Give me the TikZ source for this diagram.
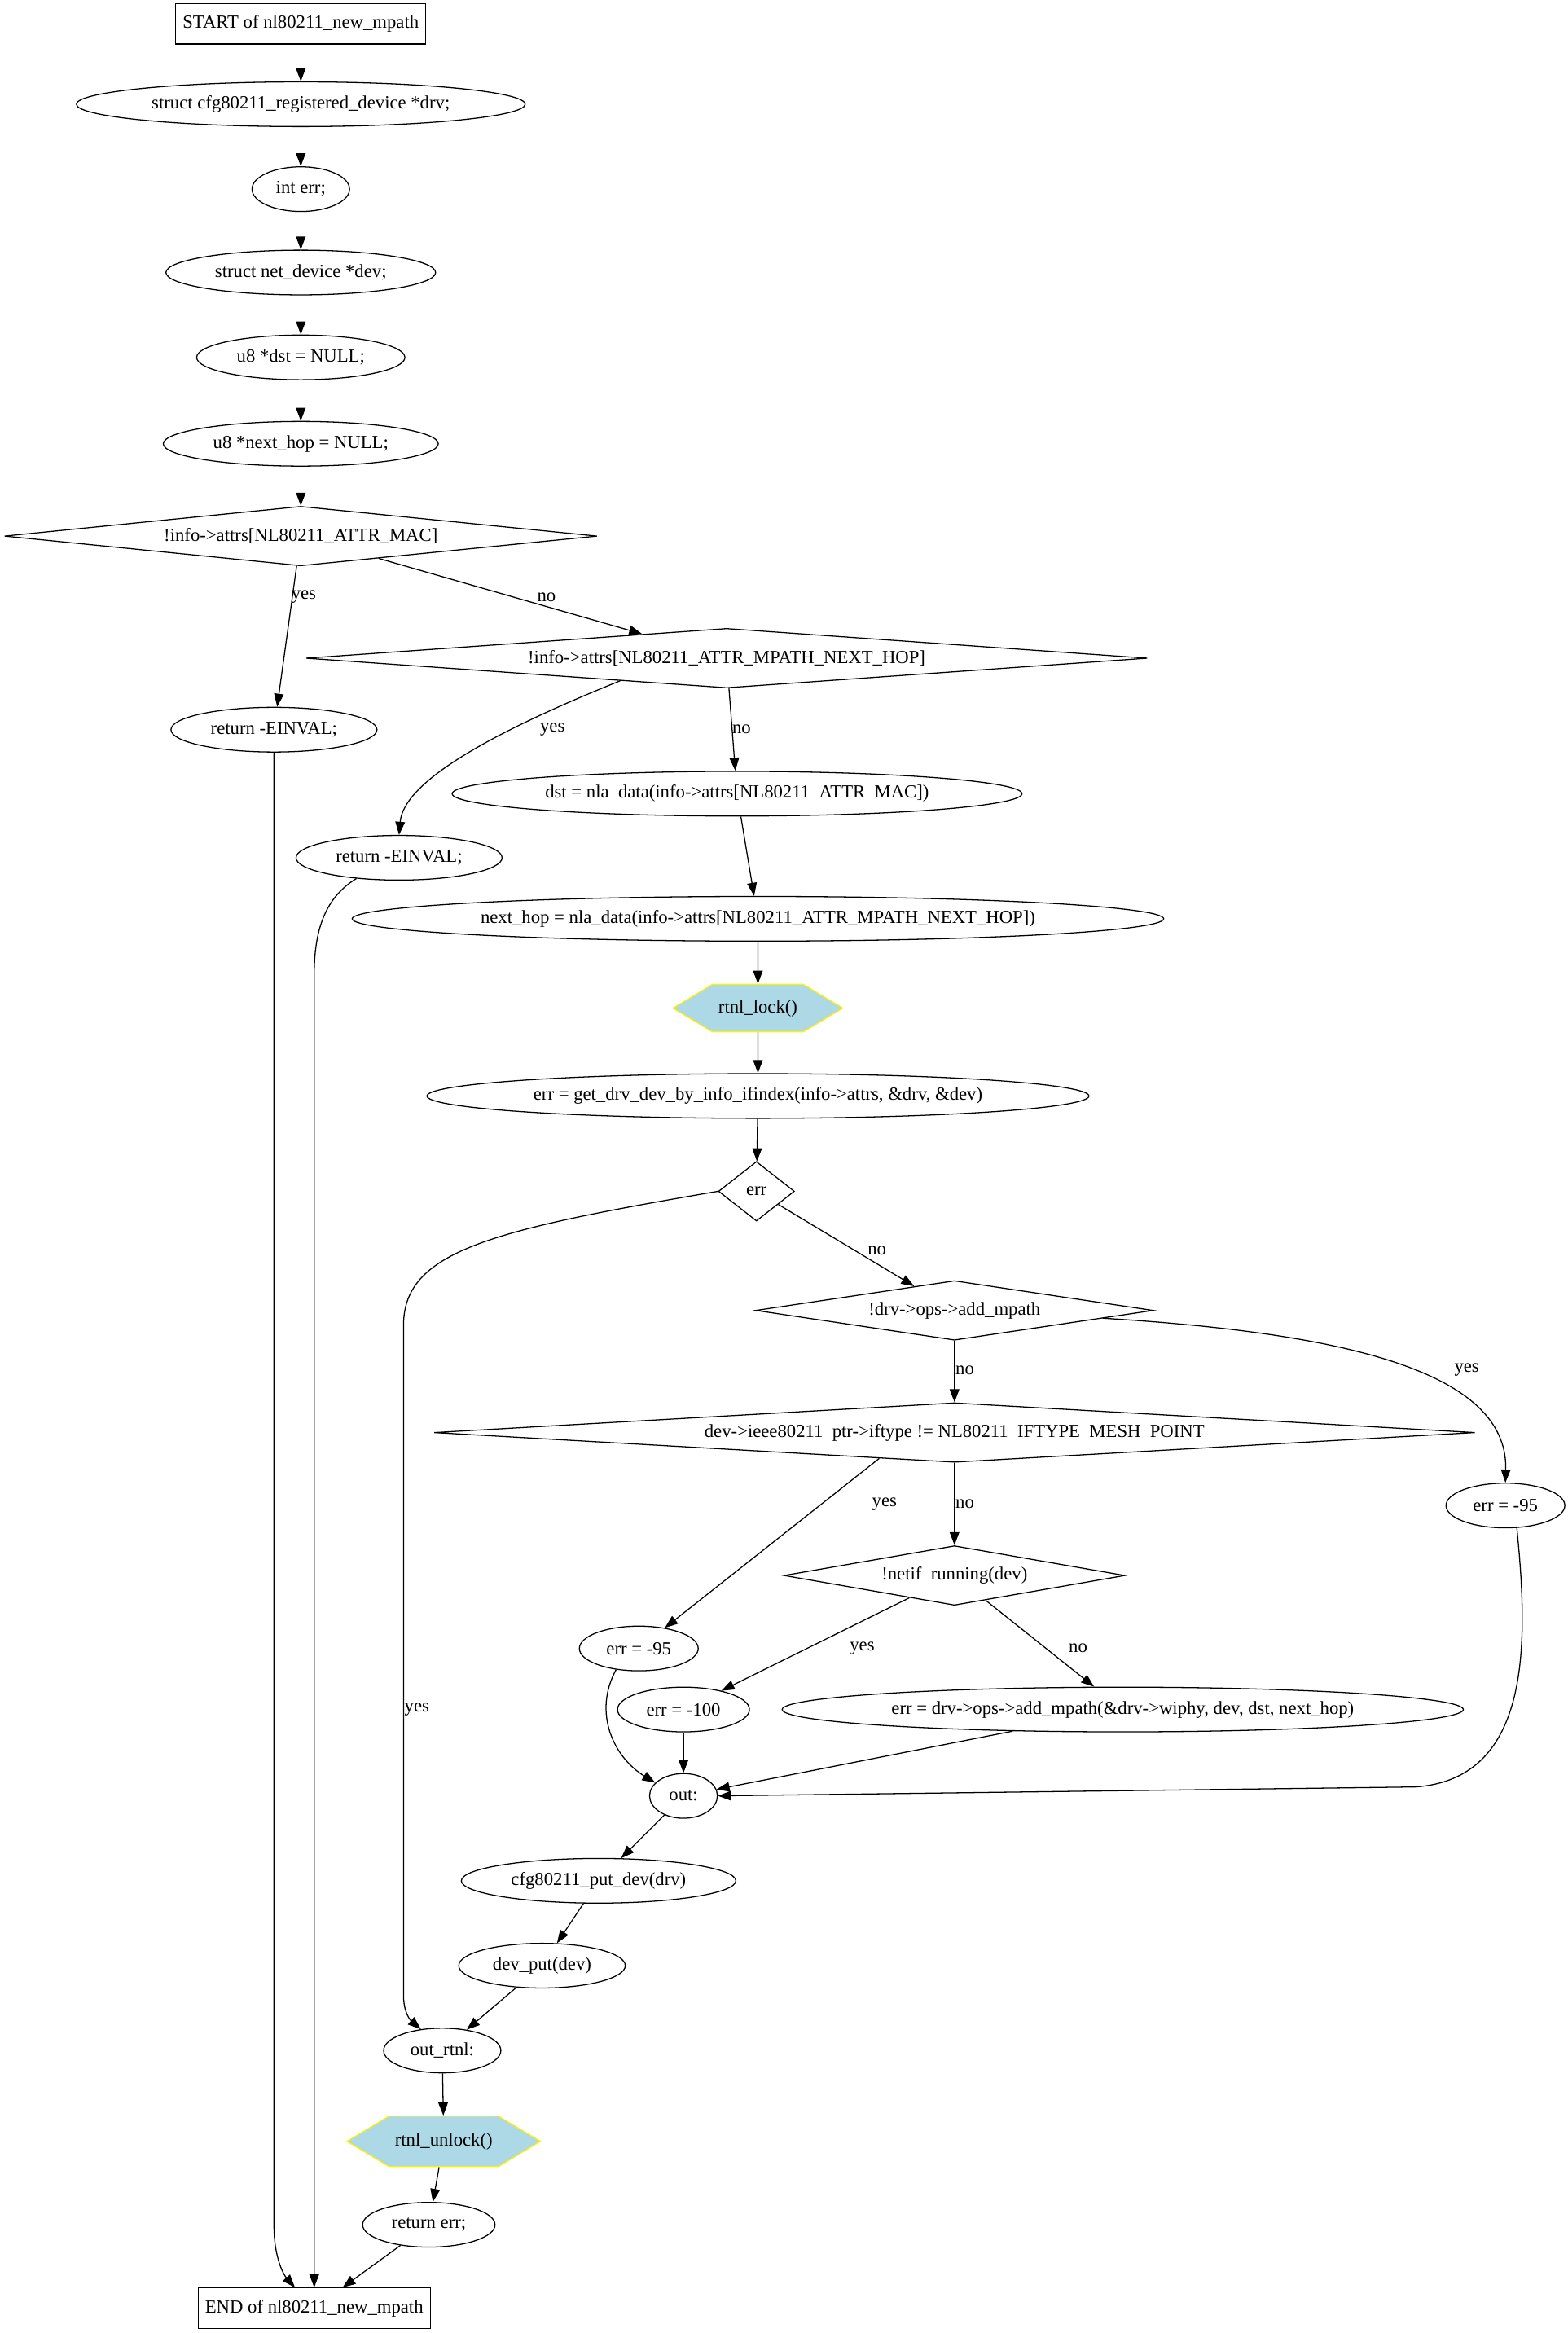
\documentclass[tikz,border=0pt]{standalone}
\usepackage{fontspec}
\setmainfont{Liberation Serif}
\usetikzlibrary{shapes.geometric,shapes.symbols,arrows.meta}
\definecolor{lightblue}{HTML}{ADD8E6}

\begin{document}
\begin{tikzpicture}[x=0.03cm, y=0.03cm, line width=0.6pt,
  font=\fontsize{10.6}{12}\selectfont,
  >={Triangle[length=7.5pt,width=5.5pt]},
  box/.style={draw, rectangle, minimum height=0.81cm, inner xsep=4pt},
  el/.style={draw, ellipse, minimum height=0.9cm, inner xsep=5.5pt, inner ysep=1pt},
  dia/.style={draw, diamond, minimum height=1.2cm, minimum width=#1, inner sep=1pt},
  hexa/.style={draw=yellow, fill=lightblue, signal, signal to=west and east,
    signal pointer angle=62, minimum height=#1},
  lbl/.style={inner sep=1pt}]
  \useasboundingbox (0,0) rectangle (1053,-1566.7);

  % Declarations
  \node[box] (start) at (202,-16) {START of nl80211\_new\_mpath};
  \node[el] (drv) at (202,-70) {struct cfg80211\_registered\_device *drv;};
  \node[el] (interr) at (202,-127) {int err;};
  \node[el] (netdev) at (202,-183) {struct net\_device *dev;};
  \node[el] (dstnull) at (202,-240) {u8 *dst = NULL;};
  \node[el] (hopnull) at (202,-298) {u8 *next\_hop = NULL;};

  % Attribute checks
  \node[dia=11.94cm, aspect=10] (chkmac) at (202,-360) {!info->attrs[NL80211\_ATTR\_MAC]};
  \node[el] (einval1) at (184,-490) {return -EINVAL;};
  \node[dia=16.95cm, aspect=14] (chkhop) at (488,-442) {!info->attrs[NL80211\_ATTR\_MPATH\_NEXT\_HOP]};
  \node[el] (einval2) at (268,-576) {return -EINVAL;};
  \node[el] (getdst) at (495,-533) {dst = nla\enspace data(info->attrs[NL80211\enspace ATTR\enspace MAC])};
  \node[el] (gethop) at (509,-617) {next\_hop = nla\_data(info->attrs[NL80211\_ATTR\_MPATH\_NEXT\_HOP])};

  % Locked part
  \node[hexa=0.96cm, minimum width=3.24cm] (lock) at (509,-677) {rtnl\_lock()};
  \node[el] (getdev) at (509,-736) {err = get\_drv\_dev\_by\_info\_ifindex(info->attrs, \&drv, \&dev)};
  \node[dia=1.53cm, aspect=1.3] (chkerr) at (508,-800) {err};
  \node[dia=8.01cm, aspect=6.7] (chkops) at (641,-880) {!drv->ops->add\_mpath};
  \node[dia=20.97cm, aspect=17.5] (chktype) at (641,-962) {dev->ieee80211\enspace ptr->iftype != NL80211\enspace IFTYPE\enspace MESH\enspace POINT};
  \node[el] (eopn) at (1011,-1011) {err = -95};
  \node[dia=6.87cm, aspect=5.7] (chkrun) at (641,-1058) {!netif\enspace running(dev)};
  \node[el] (err95) at (429,-1107) {err = -95};
  \node[el] (err100) at (459,-1148) {err = -100};
  \node[el] (addpath) at (754,-1148) {err = drv->ops->add\_mpath(\&drv->wiphy, dev, dst, next\_hop)};

  % Cleanup
  \node[el] (out) at (459,-1206) {out:};
  \node[el] (putdrv) at (402,-1263) {cfg80211\_put\_dev(drv)};
  \node[el] (putdev) at (364,-1320) {dev\_put(dev)};
  \node[el] (outrtnl) at (297,-1377) {out\_rtnl:};
  \node[hexa=1.02cm, minimum width=3.84cm] (unlock) at (298,-1438) {rtnl\_unlock()};
  \node[el] (reterr) at (288,-1494) {return err;};
  \node[box] (stop) at (211,-1550) {END of nl80211\_new\_mpath};

  % Edge labels
  \node[lbl] (yes1) at (204,-401) {yes};
  \node[lbl] (no1) at (367,-401) {no};
  \node[lbl] (yes2) at (371,-490) {yes};
  \node[lbl] (no2) at (498,-490) {no};
  \node[lbl] (yes3) at (280,-1148) {yes};
  \node[lbl] (no3) at (589,-840) {no};
  \node[lbl] (no4) at (648,-920) {no};
  \node[lbl] (yes4) at (985,-920) {yes};
  \node[lbl] (yes5) at (594,-1010) {yes};
  \node[lbl] (no5) at (648,-1010) {no};
  \node[lbl] (yes6) at (579,-1107) {yes};
  \node[lbl] (no6) at (724,-1107) {no};

  % Straight flow
  \draw[->] (start) -- (drv);
  \draw[->] (drv) -- (interr);
  \draw[->] (interr) -- (netdev);
  \draw[->] (netdev) -- (dstnull);
  \draw[->] (dstnull) -- (hopnull);
  \draw[->] (hopnull) -- (chkmac);
  \draw[->] (chkmac) -- (einval1);
  \draw[->] (chkmac) -- (chkhop);
  \draw[->] (chkhop) -- (getdst);
  \draw[->] (getdst) -- (gethop);
  \draw[->] (gethop) -- (lock);
  \draw[->] (lock) -- (getdev);
  \draw[->] (getdev) -- (chkerr);
  \draw[->] (chkerr) -- (chkops);
  \draw[->] (chkops) -- (chktype);
  \draw[->] (chktype.199) -- (err95);
  \draw[->] (chktype) -- (chkrun);
  \draw[->] (chkrun) -- (err100);
  \draw[->] (chkrun) -- (addpath);
  \draw[->] (err100) -- (out);
  \draw[->] (addpath) -- (out);
  \draw[->] (out) -- (putdrv);
  \draw[->] (putdrv) -- (putdev);
  \draw[->] (putdev) -- (outrtnl);
  \draw[->] (outrtnl) -- (unlock);
  \draw[->] (unlock) -- (reterr);
  \draw[->] (reterr) -- (stop);

  % Curved flow
  \draw[->] (chkhop.192) .. controls (330,-492) and (271,-525) .. (einval2.north);
  \draw[->] (chkerr.west) .. controls (330,-826) and (271,-840) .. (271,-890)
    -- (271,-1340) .. controls (271,-1352) and (276,-1357) .. (outrtnl.135);
  \draw[->] (chkops.-3) .. controls (900,-895) and (1013,-920) .. (eopn.north);
  \draw[->] (err95.223) .. controls (398,-1150) and (412,-1180) .. (out.155);
  \draw[->] (eopn.-63) .. controls (1026,-1100) and (1030,-1195) .. (950,-1200) -- (out.east);
  \draw[->] (einval1) -- (184,-1495) .. controls (184,-1515) and (190,-1527) .. (stop.133);
  \draw[->] (einval2.206) .. controls (218,-603) and (211,-625) .. (211,-655) -- (stop.north);
\end{tikzpicture}
\end{document}
